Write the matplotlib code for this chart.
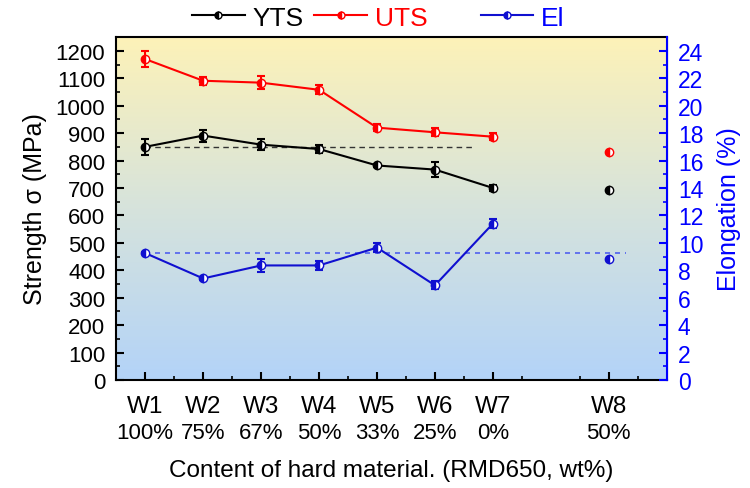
import numpy as np
import matplotlib
matplotlib.use('Agg')
from matplotlib import pyplot as plt
from matplotlib.lines import Line2D
from matplotlib.colors import LinearSegmentedColormap

plt.rcParams['font.family'] = ['Liberation Sans', 'DejaVu Sans']

# data
samples = ['W1', 'W2', 'W3', 'W4', 'W5', 'W6', 'W7', 'W8']
contents = ['100%', '75%', '67%', '50%', '33%', '25%', '0%', '50%']
xpos = [1, 2, 3, 4, 5, 6, 7, 9]

yts = [850, 891, 858, 842, 782, 767, 700, 694]
yts_err = [28, 22, 20, 16, 5, 28, 12, 0]
uts = [1170, 1091, 1084, 1058, 920, 903, 887, 832]
uts_err = [28, 14, 24, 16, 14, 14, 12, 0]
el = [9.25, 7.4, 8.35, 8.35, 9.65, 6.9, 11.4, 8.8]
el_err = [0.1, 0.1, 0.5, 0.3, 0.35, 0.3, 0.35, 0]

fig = plt.figure(figsize=(7.5, 4.89), dpi=100)
ax = fig.add_axes([0.155, 0.221, 0.734, 0.701])
ax2 = ax.twinx()

# background gradient
cmap = LinearSegmentedColormap.from_list('bg', ['#b3d3f8', '#d6e3dc', '#fdf2b8'])
grad = np.linspace(0, 1, 256).reshape(-1, 1)
ax.imshow(grad, extent=[0.5, 10, 0, 1250], origin='lower', aspect='auto', cmap=cmap, zorder=0)

def plot_series(a, y, err, col, z):
    n = 7
    a.errorbar(xpos[:n], y[:n], yerr=err[:n], color=col, lw=1.5, capsize=3, capthick=1.5,
               elinewidth=1.5, marker='o', ms=6, fillstyle='left', markerfacecolor=col,
               markerfacecoloralt='white', markeredgecolor=col, zorder=z)
    a.plot(xpos[n:], y[n:], ls='none', marker='o', ms=6, fillstyle='left', markerfacecolor=col,
           markerfacecoloralt='white', markeredgecolor=col, zorder=z)

ax.plot([1, 6.64], [yts[0], yts[0]], color='#333333', ls=(0, (4, 3)), lw=1, zorder=2)
plot_series(ax, yts, yts_err, 'black', 3)
plot_series(ax, uts, uts_err, 'red', 3)
ax2.plot([1, 9.3], [el[0], el[0]], color='#5060f0', ls=(0, (3, 3)), lw=1.2, zorder=2)
plot_series(ax2, el, el_err, '#1010d0', 3)

ax.set_xlim(0.5, 10)
ax.set_ylim(0, 1250)
ax2.set_ylim(0, 25)

ax.set_xticks(xpos)
ax.set_xticklabels(samples)
ax.set_xticks(np.arange(1.5, 10, 1), minor=True)
ax.set_yticks(np.arange(0, 1201, 100))
ax.set_yticks(np.arange(50, 1250, 100), minor=True)
ax.tick_params(axis='both', direction='in', labelsize=16, width=1.5, length=6, pad=8)
ax.tick_params(axis='x', labelsize=17.5, pad=11)
ax.tick_params(which='minor', direction='in', width=1.2, length=3)
ax2.set_yticks(np.arange(0, 25, 2))
ax2.set_yticks(np.arange(1, 25, 2), minor=True)
ax2.tick_params(axis='y', direction='in', labelsize=16.5, width=1.5, length=6, colors='blue', pad=8)
ax2.tick_params(which='minor', direction='in', width=1.2, length=3, colors='blue')

for s in ['left', 'bottom', 'top']:
    ax.spines[s].set_linewidth(1.5)
ax2.spines['right'].set_color('blue')
ax2.spines['right'].set_linewidth(1.5)
for s in ['left', 'bottom', 'top']:
    ax2.spines[s].set_visible(False)

for x, c in zip(xpos, contents):
    ax.text(x, -0.152, c, transform=ax.get_xaxis_transform(), ha='center', va='center', fontsize=16)

ax.set_xlabel('Content of hard material. (RMD650, wt%)', fontsize=17.5, labelpad=30)
ax.set_ylabel('Strength σ (MPa)', fontsize=18, labelpad=6)
ax2.set_ylabel('Elongation (%)', fontsize=18, color='blue', labelpad=10)

def handle(col):
    return Line2D([], [], color=col, lw=1.5, marker='o', ms=5, fillstyle='left',
                  markerfacecolor=col, markerfacecoloralt='white', markeredgecolor=col)

leg1 = fig.legend([handle('black'), handle('red')], ['YTS', 'UTS'],
                  loc='center', bbox_to_anchor=(0.413, 0.962), ncol=2, frameon=False,
                  fontsize=19, handlelength=2.0, handletextpad=0.3, columnspacing=0.4,
                  borderpad=0.1)
leg2 = fig.legend([handle('#1010d0')], ['El'],
                  loc='center', bbox_to_anchor=(0.697, 0.962), frameon=False,
                  fontsize=19, handlelength=2.0, handletextpad=0.3, borderpad=0.1)
for t, c in zip(leg1.get_texts() + leg2.get_texts(), ['black', 'red', 'blue']):
    t.set_color(c)

fig.savefig('out.png', dpi=100)
